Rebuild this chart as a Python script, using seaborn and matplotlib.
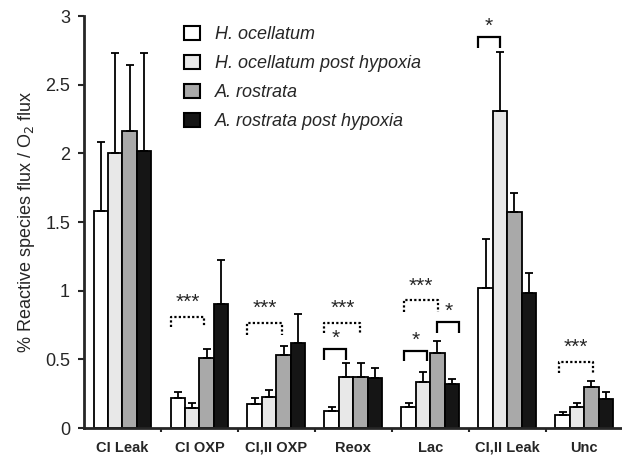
import matplotlib
matplotlib.use("Agg")
from matplotlib import pyplot as plt
from matplotlib.patches import Patch
import seaborn as sns
import pandas as pd

################ data ################
categories = ["CI Leak", "CI OXP", "CI,II OXP", "Reox", "Lac", "CI,II Leak", "Unc"]
groups = ["H. ocellatum", "H. ocellatum post hypoxia", "A. rostrata", "A. rostrata post hypoxia"]
colors = ["#ffffff", "#e8e8e8", "#a9a9a9", "#151515"]

h_ocell      = [1.58, 0.216, 0.175, 0.121, 0.151, 1.017, 0.097]
h_ocell_post = [2.00, 0.148, 0.223, 0.374, 0.337, 2.311, 0.151]
a_rost       = [2.16, 0.512, 0.529, 0.374, 0.549, 1.571, 0.301]
a_rost_post  = [2.02, 0.900, 0.617, 0.362, 0.318, 0.981, 0.209]

# top of the error bar
h_ocell_err      = [2.08, 0.264, 0.218, 0.153, 0.180, 1.374, 0.119]
h_ocell_post_err = [2.73, 0.180, 0.279, 0.471, 0.410, 2.740, 0.180]
a_rost_err       = [2.64, 0.573, 0.600, 0.471, 0.636, 1.709, 0.345]
a_rost_post_err  = [2.73, 1.220, 0.830, 0.435, 0.355, 1.131, 0.264]

# significance brackets: category, from / to (bar units), top, leg end, dotted, label, label y
brackets = [
    (1, -0.5, 1.85, 0.81, 0.735, True, "***", 0.845),
    (2, -0.5, 1.90, 0.767, 0.68, True, "***", 0.80),
    (3, -0.5, 1.98, 0.767, 0.69, True, "***", 0.80),
    (3, -0.5, 1.00, 0.575, 0.495, False, "*", 0.585),
    (4, -0.33, 2.05, 0.932, 0.847, True, "***", 0.965),
    (4, -0.33, 1.26, 0.561, 0.488, False, "*", 0.57),
    (4, 2.0, 3.5, 0.77, 0.69, False, "*", 0.78),
    (5, -0.5, 1.0, 2.845, 2.765, False, "*", 2.855),
    (6, -0.26, 2.12, 0.483, 0.403, True, "***", 0.515),
]

values = [h_ocell, h_ocell_post, a_rost, a_rost_post]
errs = [h_ocell_err, h_ocell_post_err, a_rost_err, a_rost_post_err]

df = pd.DataFrame({
    "cat": [c for g in groups for c in categories],
    "group": [g for g in groups for c in categories],
    "value": [v for vals in values for v in vals],
})

################ plot ################
sns.set_style("ticks")
plt.rcParams['font.family'] = ['Liberation Sans', 'DejaVu Sans']

fig = plt.figure(figsize=(6.22, 4.58), dpi=100)
ax = fig.add_axes([0.135, 0.0655, 0.866, 0.8995])

sns.barplot(data=df, x="cat", y="value", hue="group", order=categories, hue_order=groups,
            palette=colors, width=0.75, edgecolor="black", linewidth=1.3, legend=False,
            ax=ax, errorbar=None, saturation=1)

bar_w = None
centers = []
bar_containers = list(ax.containers)
for i, cont in enumerate(bar_containers):
    xs = [p.get_x() + p.get_width() / 2 for p in cont.patches]
    bar_w = cont.patches[0].get_width()
    centers.append(xs)
    low = [0 for _ in values[i]]
    up = [e - v for e, v in zip(errs[i], values[i])]
    ax.errorbar(xs, values[i], yerr=[low, up], fmt="none", ecolor="black",
                elinewidth=1.3, capsize=3, capthick=1.3, zorder=1)

for cat, a, b, top, leg, dotted, label, ly in brackets:
    x0 = centers[0][cat] + a * bar_w
    x1 = centers[0][cat] + b * bar_w
    ls = (0, (1, 1)) if dotted else "-"
    ax.plot([x0, x0, x1, x1], [leg, top, top, leg], color="black", lw=1.6, ls=ls,
            solid_capstyle="butt", solid_joinstyle="miter")
    ax.text((x0 + x1) / 2, ly, label, ha="center", va="bottom", fontsize=15)

ax.set_xlim(-0.5, len(categories) - 0.5)
ax.set_ylim(0, 3)
ax.set_yticks([0, 0.5, 1, 1.5, 2, 2.5, 3])
ax.set_yticklabels(["0", "0.5", "1", "1.5", "2", "2.5", "3"], fontsize=13)
ax.set_xticks([i + 0.5 for i in range(len(categories) - 1)])
ax.set_xticklabels([])
ax.tick_params(axis="x", length=3, width=1.5, direction="out")
ax.tick_params(axis="y", length=4, width=1.5, direction="out", pad=6)
for i, c in enumerate(categories):
    ax.text(i, -0.145, c, ha="center", va="center", fontsize=10.5, fontweight="bold",
            transform=ax.transData)
ax.set_xlabel("")
ax.set_ylabel("% Reactive species flux / O$_2$ flux", fontsize=13, labelpad=6)
sns.despine(ax=ax)
for s in ["left", "bottom"]:
    ax.spines[s].set_linewidth(2)

handles = [Patch(facecolor=c, edgecolor="black", linewidth=1.5) for c in colors]
leg = ax.legend(handles, groups, loc="upper left", bbox_to_anchor=(0.172, 0.993), frameon=False,
                prop={"style": "italic", "size": 13}, handlelength=0.9, handleheight=0.8,
                labelspacing=0.65, handletextpad=0.8, borderaxespad=0)

plt.savefig("out.png", dpi=100)
